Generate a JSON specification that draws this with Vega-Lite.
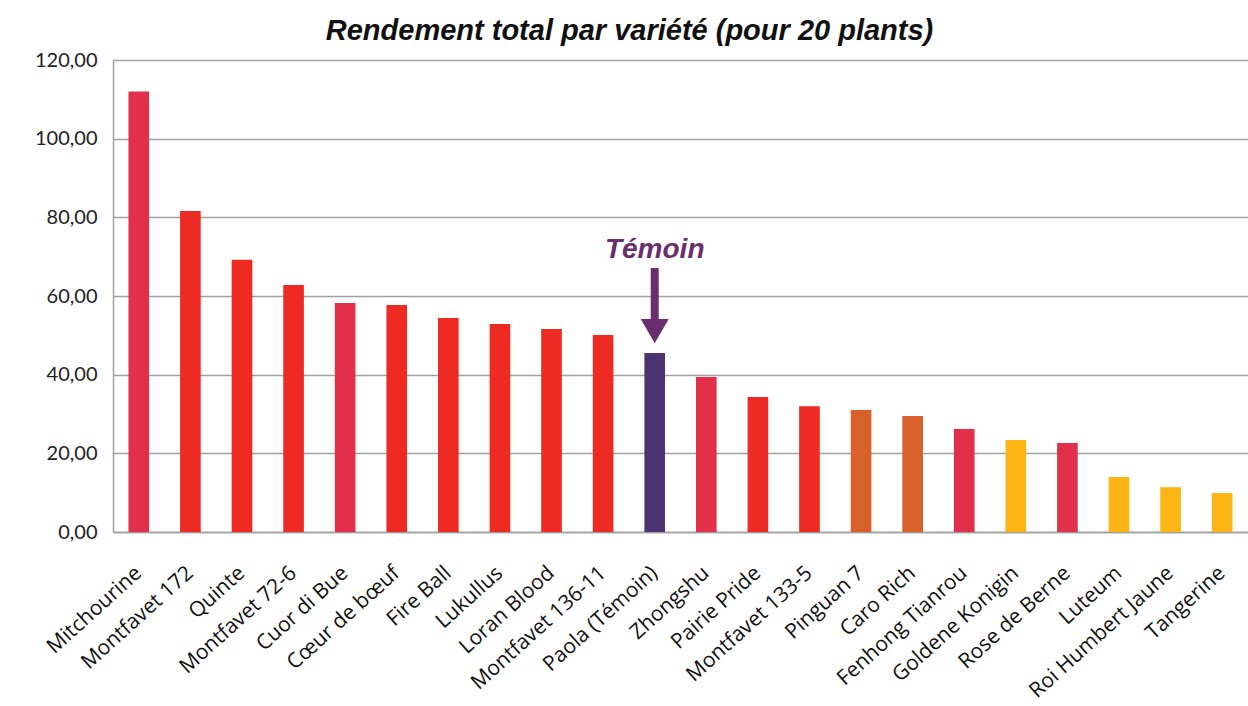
{
  "$schema": "https://vega.github.io/schema/vega-lite/v6.json",
  "width": 1135,
  "height": 472,
  "autosize": {"type": "none"},
  "padding": {"left": 113, "top": 60, "right": 0, "bottom": 174},
  "background": "white",
  "title": {
    "text": "Rendement total par variété (pour 20 plants)",
    "font": "Liberation Sans",
    "fontSize": 29,
    "fontWeight": "bold",
    "fontStyle": "italic",
    "color": "#111111",
    "anchor": "middle",
    "frame": "group",
    "dx": -51,
    "offset": 4
  },
  "config": {
    "view": {"stroke": null},
    "axis": {"labelFont": "Lato", "labelColor": "#222222"}
  },
  "datasets": {
    "rendement": [
      {"variete": "Mitchourine", "rendement": 112.0, "groupe": "rose"},
      {"variete": "Montfavet 172", "rendement": 81.6, "groupe": "rouge"},
      {"variete": "Quinte", "rendement": 69.2, "groupe": "rouge"},
      {"variete": "Montfavet 72-6", "rendement": 62.8, "groupe": "rouge"},
      {"variete": "Cuor di Bue", "rendement": 58.2, "groupe": "rose"},
      {"variete": "Cœur de bœuf", "rendement": 57.7, "groupe": "rouge"},
      {"variete": "Fire Ball", "rendement": 54.4, "groupe": "rouge"},
      {"variete": "Lukullus", "rendement": 52.9, "groupe": "rouge"},
      {"variete": "Loran Blood", "rendement": 51.6, "groupe": "rouge"},
      {"variete": "Montfavet 136-11", "rendement": 50.1, "groupe": "rouge"},
      {"variete": "Paola (Témoin)", "rendement": 45.5, "groupe": "temoin"},
      {"variete": "Zhongshu", "rendement": 39.4, "groupe": "rose"},
      {"variete": "Pairie Pride", "rendement": 34.3, "groupe": "rouge"},
      {"variete": "Montfavet 133-5", "rendement": 32.0, "groupe": "rouge"},
      {"variete": "Pinguan 7", "rendement": 31.0, "groupe": "orange"},
      {"variete": "Caro Rich", "rendement": 29.5, "groupe": "orange"},
      {"variete": "Fenhong Tianrou", "rendement": 26.2, "groupe": "rose"},
      {"variete": "Goldene Konigin", "rendement": 23.4, "groupe": "jaune"},
      {"variete": "Rose de Berne", "rendement": 22.6, "groupe": "rose"},
      {"variete": "Luteum", "rendement": 14.0, "groupe": "jaune"},
      {"variete": "Roi Humbert Jaune", "rendement": 11.4, "groupe": "jaune"},
      {"variete": "Tangerine", "rendement": 9.9, "groupe": "jaune"}
    ],
    "annotation": [
      {"variete": "Paola (Témoin)", "haut": 67.1, "bas": 53.6, "pointe": 51.1, "texte": 69.7, "label": "Témoin"}
    ]
  },
  "layer": [
    {
      "data": {"name": "rendement"},
      "mark": {"type": "bar"},
      "encoding": {
        "x": {
          "field": "variete",
          "type": "nominal",
          "sort": null,
          "title": null,
          "scale": {"paddingInner": 0.6, "paddingOuter": 0.3},
          "axis": {
            "labelAngle": -42,
            "labelAlign": "right",
            "labelBaseline": "middle",
            "labelFont": "Open Sans",
            "labelFontSize": 21,
            "labelColor": "#111111",
            "labelPadding": 38,
            "labelOffset": 0,
            "labelLimit": 400,
            "ticks": false,
            "domainColor": "#A0A0A0",
            "domainWidth": 1.5,
            "labelOverlap": false
          }
        },
        "y": {
          "field": "rendement",
          "type": "quantitative",
          "title": null,
          "scale": {"domain": [0, 120]},
          "axis": {
            "values": [0, 20, 40, 60, 80, 100, 120],
            "labelExpr": "replace(format(datum.value, '.2f'), '.', ',')",
            "labelFontSize": 20,
            "labelPadding": 16,
            "ticks": false,
            "domainColor": "#A0A0A0",
            "domainWidth": 1.5,
            "gridColor": "#A0A0A0",
            "gridWidth": 1.5
          }
        },
        "color": {
          "field": "groupe",
          "type": "nominal",
          "legend": null,
          "scale": {
            "domain": ["rose", "rouge", "temoin", "orange", "jaune"],
            "range": ["#E2304A", "#EE2B23", "#4B3470", "#D8602A", "#FDB515"]
          }
        }
      }
    },
    {
      "data": {"name": "annotation"},
      "mark": {"type": "rule", "color": "#6A2E6E", "strokeWidth": 8},
      "encoding": {
        "x": {"field": "variete", "type": "nominal", "sort": null},
        "y": {"field": "haut", "type": "quantitative"},
        "y2": {"field": "bas"}
      }
    },
    {
      "data": {"name": "annotation"},
      "mark": {"type": "point", "shape": "triangle-down", "filled": true, "color": "#6A2E6E", "size": 784, "opacity": 1},
      "encoding": {
        "x": {"field": "variete", "type": "nominal", "sort": null},
        "y": {"field": "pointe", "type": "quantitative"}
      }
    },
    {
      "data": {"name": "annotation"},
      "mark": {"type": "text", "color": "#6A2E6E", "font": "Liberation Sans", "fontSize": 28, "fontWeight": "bold", "fontStyle": "italic", "baseline": "alphabetic", "align": "center"},
      "encoding": {
        "x": {"field": "variete", "type": "nominal", "sort": null},
        "y": {"field": "texte", "type": "quantitative"},
        "text": {"field": "label"}
      }
    }
  ]
}
